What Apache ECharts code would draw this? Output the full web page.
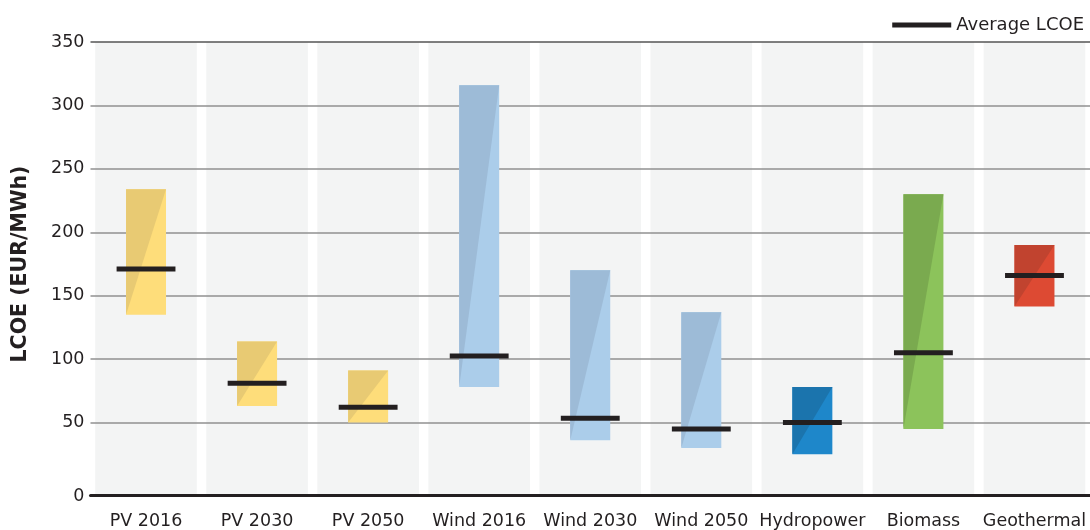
<!DOCTYPE html>
<html>
<head>
<meta charset="utf-8">
<script src="https://cdn.jsdelivr.net/npm/echarts@6/dist/echarts.min.js"></script>
<style>
  html, body { margin: 0; padding: 0; background: #ffffff; }
  #chart { width: 1090px; height: 530px; }
</style>
</head>
<body>
<div id="chart"></div>
<script>
// ---- data ----
const categories = ['PV 2016', 'PV 2030', 'PV 2050', 'Wind 2016', 'Wind 2030', 'Wind 2050', 'Hydropower', 'Biomass', 'Geothermal'];
const lowValues  = [135, 63, 50, 78, 36, 30, 25, 45, 141.5];
const highValues = [234, 114, 91, 316, 170, 137, 78, 230, 190];
const avgValues  = [171, 81, 62, 102.5, 53.5, 45, 50, 105, 166];
const yMin = 0, yMax = 350, yStep = 50;
const legendLabel = 'Average LCOE';
const yAxisTitle = 'LCOE (EUR/MWh)';

// ---- styles ----
const palette = {
  pv:    { dark: '#e8ca73', light: '#fedd7a' },
  wind:  { dark: '#9dbbd7', light: '#abcdea' },
  hydro: { dark: '#1b74ad', light: '#1e87ca' },
  bio:   { dark: '#7aaa4f', light: '#8cc35b' },
  geo:   { dark: '#c1432f', light: '#dd4a33' }
};
const groupOf = ['pv', 'pv', 'pv', 'wind', 'wind', 'wind', 'hydro', 'bio', 'geo'];
const FONT = 'DejaVu Sans';
const TXT = '#231f20';

const chart = echarts.init(document.getElementById('chart'), null, { renderer: 'canvas' });

const rangeData = categories.map((c, i) => [i, lowValues[i], highValues[i]]);
const avgData = categories.map((c, i) => [i, avgValues[i]]);
const bgData = categories.map((c, i) => [i, yMax]);

const option = {
  backgroundColor: '#ffffff',
  animation: false,
  grid: { left: 90.5, right: -3, top: 42, bottom: 44, containLabel: false },
  legend: {
    data: [{ name: legendLabel, icon: 'rect' }],
    right: 1,
    top: 11,
    itemWidth: 59,
    itemHeight: 5,
    itemGap: 7,
    textStyle: { fontFamily: FONT, fontSize: 18, color: TXT },
    selectedMode: false
  },
  xAxis: {
    type: 'category',
    data: categories,
    offset: 9,
    axisLine: { show: true, onZero: false, lineStyle: { color: TXT, width: 3 } },
    axisTick: { show: false },
    axisLabel: { fontFamily: FONT, fontSize: 17.5, color: TXT, margin: 17, interval: 0 },
    splitLine: { show: false }
  },
  yAxis: {
    type: 'value',
    min: yMin,
    max: yMax,
    interval: yStep,
    name: yAxisTitle,
    nameLocation: 'middle',
    nameGap: 59,
    nameTextStyle: { fontFamily: FONT, fontSize: 20.5, fontWeight: 'bold', color: TXT },
    axisLine: { show: false },
    axisTick: { show: false },
    axisLabel: {
      fontFamily: FONT, fontSize: 17.5, color: TXT, margin: 6,
      formatter: function (v) { return v === 0 ? '{z|0}' : String(v); },
      rich: { z: { fontFamily: FONT, fontSize: 17.5, color: TXT, lineHeight: 38, verticalAlign: 'bottom' } }
    },
    splitLine: {
      show: true,
      lineStyle: {
        color: ['rgba(0,0,0,0)', '#919191', '#919191', '#919191', '#919191', '#919191', '#919191', '#555555'],
        width: 1.5
      }
    }
  },
  series: [
    {
      type: 'custom',
      name: 'bg',
      z: -1,
      silent: true,
      data: bgData,
      encode: { x: 0, y: 1 },
      renderItem: function (params, api) {
        const i = api.value(0);
        const band = api.size([1, 0])[0];
        const cx = api.coord([i, yMin])[0];
        const top = api.coord([i, api.value(1)])[1];
        const bottom = params.coordSys.y + params.coordSys.height + 9;
        const w = band * 0.915;
        return {
          type: 'rect',
          shape: { x: cx - w / 2, y: top, width: w, height: bottom - top },
          style: { fill: '#f3f4f4' }
        };
      }
    },
    {
      type: 'custom',
      name: 'range',
      z: 2,
      data: rangeData,
      encode: { x: 0, y: [1, 2] },
      renderItem: function (params, api) {
        const i = api.value(0);
        const lo = api.coord([i, api.value(1)]);
        const hi = api.coord([i, api.value(2)]);
        const bw = api.size([1, 0])[0] * 0.36;
        const x0 = lo[0] - bw / 2, x1 = lo[0] + bw / 2;
        const col = palette[groupOf[i]];
        return {
          type: 'group',
          children: [
            { type: 'rect', shape: { x: x0, y: hi[1], width: bw, height: lo[1] - hi[1] }, style: { fill: col.light } },
            { type: 'polygon', shape: { points: [[x0, hi[1]], [x1, hi[1]], [x0, lo[1]]] }, style: { fill: col.dark } }
          ]
        };
      }
    },
    {
      type: 'custom',
      name: legendLabel,
      z: 3,
      itemStyle: { color: TXT },
      data: avgData,
      encode: { x: 0, y: 1 },
      renderItem: function (params, api) {
        const i = api.value(0);
        const p = api.coord([i, api.value(1)]);
        const w = api.size([1, 0])[0] * 0.53;
        const h = 5;
        return {
          type: 'rect',
          shape: { x: p[0] - w / 2, y: p[1] - h / 2, width: w, height: h },
          style: { fill: TXT }
        };
      }
    }
  ]
};

chart.setOption(option);
</script>
</body>
</html>
